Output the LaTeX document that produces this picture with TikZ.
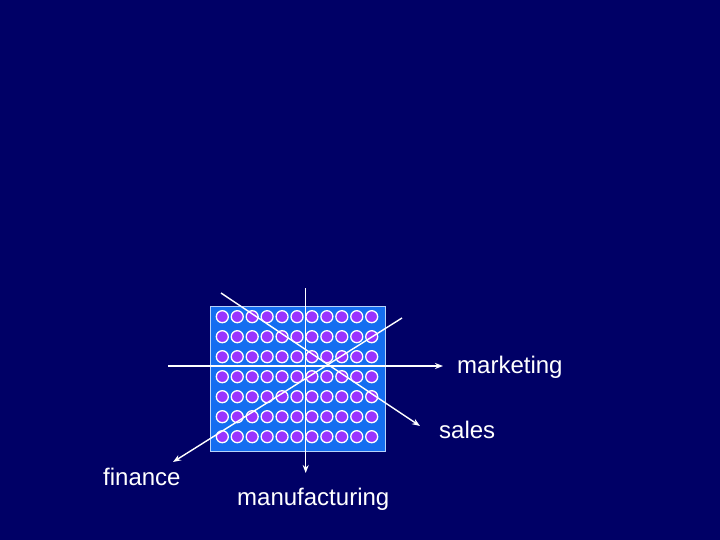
\documentclass[tikz,border=0pt]{standalone}
\usepackage{fontspec}
\setmainfont{Liberation Sans}
\usetikzlibrary{arrows.meta}
\definecolor{navy}{RGB}{0,0,102}
\definecolor{panel}{RGB}{20,110,240}
\definecolor{dot}{RGB}{153,51,255}
\tikzset{
  axis/.style={draw=white, line width=1.4pt, -{Stealth[length=8pt,width=6pt]}},
  lbl/.style={text=white, font=\fontsize{24}{28}\selectfont, inner sep=0pt, anchor=base west},
  dotc/.style={fill=dot, draw=white, line width=1.3pt}
}
\begin{document}
\begin{tikzpicture}[x=1pt,y=-1pt]
\fill[navy] (0,0) rectangle (720,540);
\useasboundingbox (0,0) rectangle (720,540);
\node[draw=white!70!panel, fill=panel, line width=1pt, minimum width=175pt, minimum height=145pt, inner sep=0pt] (panel) at (297.5,378.5) {};
\foreach \i in {0,...,10}{
  \foreach \j in {0,...,6}{
    \fill[dotc] ({222.3+14.94*\i},{316.7+20*\j}) circle (6pt);
  }
}
\coordinate (hs) at (168,366);
\coordinate (he) at (443,366);
\coordinate (vs) at (305.7,288);
\coordinate (ve) at (305.7,473);
\coordinate (ds) at (221,293);
\coordinate (de) at (420,426);
\coordinate (fs) at (402,318);
\coordinate (fe) at (173,462);
\draw[axis] (hs) -- (he);
\draw[axis] (vs) -- (ve);
\draw[axis] (ds) -- (de);
\draw[axis] (fs) -- (fe);
\node[lbl] (marketing) at (457,373) {marketing};
\node[lbl] (sales) at (439,438) {sales};
\node[lbl] (finance) at (103,485) {finance};
\node[lbl] (manufacturing) at (237,505) {manufacturing};
\end{tikzpicture}
\end{document}
